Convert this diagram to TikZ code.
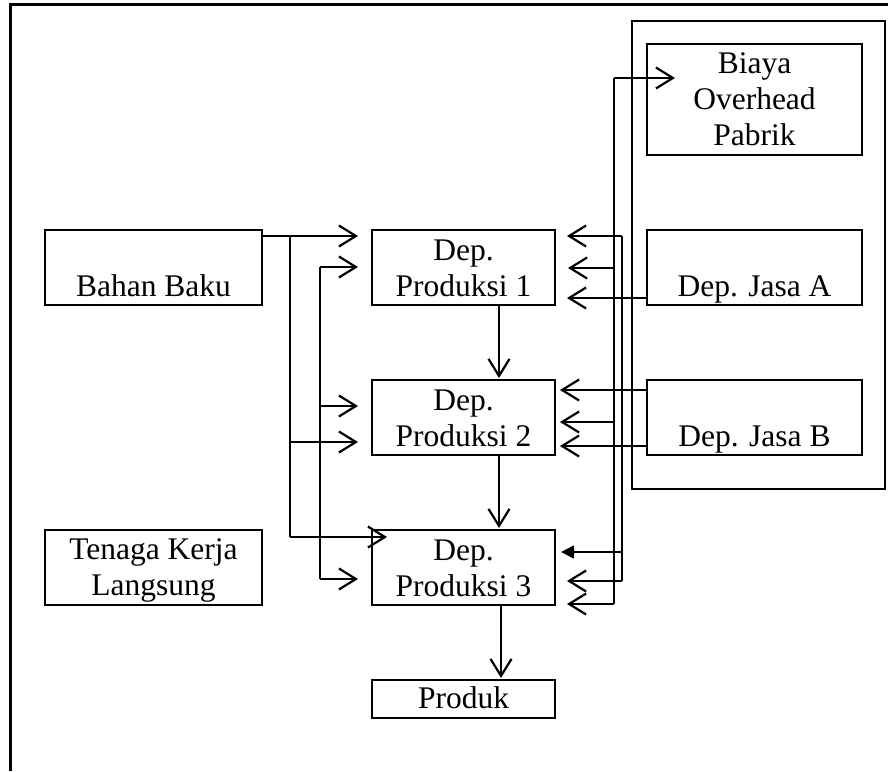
\documentclass[tikz,border=0pt]{standalone}
\usepackage{fontspec}
\setmainfont{Liberation Serif}
\usetikzlibrary{arrows.meta}
\begin{document}
\begin{tikzpicture}[x=1pt,y=-1pt,
  box/.style={draw, line width=2pt, inner sep=0pt, outer sep=0pt},
  txt/.style={font=\fontsize{31.5}{35}\selectfont, anchor=base, inner sep=0pt},
  ln/.style={line width=1.6pt},
  arr/.style={ln, -{Straight Barb[length=17pt,width=21pt,line width=2.2pt]}},
  farr/.style={ln, -{Triangle[length=13pt,width=13pt]}}]
\useasboundingbox (0,0) rectangle (888,771);
% outer frame (open on right and bottom)
\coordinate (f1) at (10.5,771);
\coordinate (f2) at (10.5,4.7);
\coordinate (f3) at (888,4.7);
\draw[line width=3pt] (f1) -- (f2) -- (f3);
% container
\node[box, minimum width=253pt, minimum height=468pt] (cont) at (758.5,255) {};
% boxes
\node[box, minimum width=217pt, minimum height=75pt] (bb) at (153.5,267.5) {};
\node[box, minimum width=217pt, minimum height=75pt] (tk) at (153.5,567.5) {};
\node[box, minimum width=183pt, minimum height=75pt] (p1) at (463.5,267.5) {};
\node[box, minimum width=183pt, minimum height=75pt] (p2) at (463.5,417.5) {};
\node[box, minimum width=183pt, minimum height=75pt] (p3) at (463.5,567.5) {};
\node[box, minimum width=183pt, minimum height=38pt] (pr) at (463.5,699) {};
\node[box, minimum width=215pt, minimum height=111pt] (bop) at (754.5,99.5) {};
\node[box, minimum width=215pt, minimum height=75pt] (ja) at (754.5,267.5) {};
\node[box, minimum width=215pt, minimum height=75pt] (jb) at (754.5,417.5) {};
% texts
\node[txt] (tbb) at (153.5,296) {Bahan Baku};
\node[txt] (ttk1) at (153.5,559) {Tenaga Kerja};
\node[txt] (ttk2) at (153.5,595) {Langsung};
\node[txt] (tp1a) at (463.5,260) {Dep.};
\node[txt] (tp1b) at (463.5,296) {Produksi 1};
\node[txt] (tp2a) at (463.5,410) {Dep.};
\node[txt] (tp2b) at (463.5,446) {Produksi 2};
\node[txt] (tp3a) at (463.5,560) {Dep.};
\node[txt] (tp3b) at (463.5,596) {Produksi 3};
\node[txt] (tpr) at (463.5,708) {Produk};
\node[txt] (tbo1) at (754.5,73) {Biaya};
\node[txt] (tbo2) at (754.5,109) {Overhead};
\node[txt] (tbo3) at (754.5,145) {Pabrik};
\node[txt] (tja) at (754.5,296) {Dep. Jasa A};
\node[txt] (tjb) at (754.5,446) {Dep. Jasa B};
% left trunks
\coordinate (lA1) at (290,236);
\coordinate (lA2) at (290,537);
\coordinate (lB1) at (320,267);
\coordinate (lB2) at (320,579);
\draw[ln] (lA1) -- (lA2);
\draw[ln] (lB1) -- (lB2);
\draw[arr, shorten >=14pt] (bb.east |- lA1) -- (p1.west |- lA1);
\draw[arr, shorten >=14pt] (lA1 |- 0,442) -- (p2.west |- 0,442);
\draw[arr, shorten >=-15pt] (lA2) -- (p3.west |- lA2);
\draw[arr, shorten >=14pt] (lB1) -- (p1.west |- lB1);
\draw[arr, shorten >=14pt] (lB1 |- 0,406) -- (p2.west |- 0,406);
\draw[arr, shorten >=14pt] (lB2) -- (p3.west |- lB2);
% right trunks
\coordinate (rA1) at (614,78);
\coordinate (rA2) at (614,604);
\coordinate (rB1) at (622,236);
\coordinate (rB2) at (622,581);
\draw[ln] (rA1) -- (rA2);
\draw[ln] (rB1) -- (rB2);
\draw[arr, shorten >=-28pt] (rA1) -- (bop.west |- rA1);
\draw[arr, shorten >=12pt] (rB1) -- (p1.east |- rB1);
\draw[arr, shorten >=13pt] (rA1 |- 0,268) -- (p1.east |- 0,268);
\draw[arr, shorten >=12pt] (ja.west |- 0,298) -- (p1.east |- 0,298);
\draw[arr, shorten >=5pt] (jb.west |- 0,390) -- (p2.east |- 0,390);
\draw[arr, shorten >=5pt] (rA1 |- 0,422) -- (p2.east |- 0,422);
\draw[arr, shorten >=5pt] (jb.west |- 0,446) -- (p2.east |- 0,446);
\draw[farr, shorten >=6pt] (rB1 |- 0,552) -- (p3.east |- 0,552);
\draw[arr, shorten >=12pt] (rB2) -- (p3.east |- rB2);
\draw[arr, shorten >=12pt] (rA2) -- (p3.east |- rA2);
% vertical flow
\draw[arr, shorten >=2pt] (p1.south -| 499,0) -- (p2.north -| 499,0);
\draw[arr, shorten >=2pt] (p2.south -| 499,0) -- (p3.north -| 499,0);
\draw[arr, shorten >=2pt] (p3.south -| 501,0) -- (pr.north -| 501,0);
\end{tikzpicture}
\end{document}
